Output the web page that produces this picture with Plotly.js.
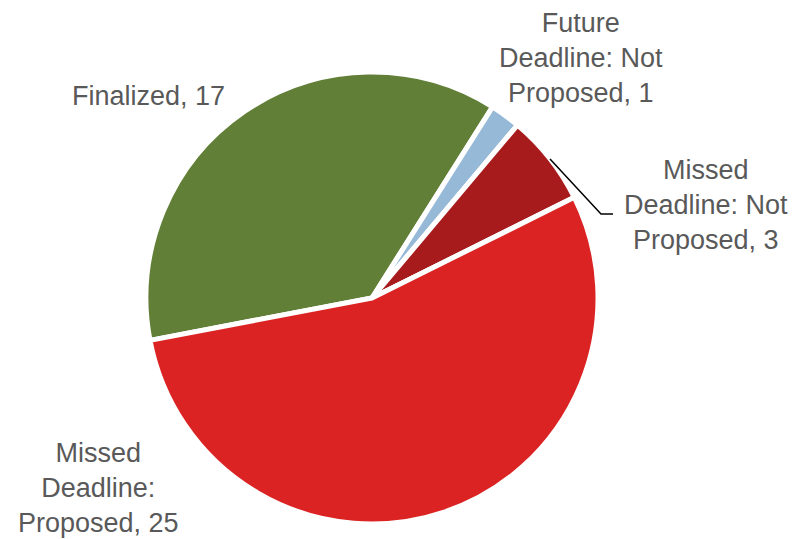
<!DOCTYPE html>
<html>
<head>
<meta charset="utf-8">
<script src="https://cdn.plot.ly/plotly-3.0.1.min.js"></script>
<style>html,body{margin:0;padding:0;background:#fff}#chart{width:800px;height:539px}</style>
</head>
<body>
<div id="chart"></div>
<script>
const categories = ["Finalized", "Future Deadline: Not Proposed", "Missed Deadline: Not Proposed", "Missed Deadline: Proposed"];
const values = [17, 1, 3, 25];
const labelText = ["Finalized, 17", "Future<br>Deadline: Not<br>Proposed, 1", "Missed<br>Deadline: Not<br>Proposed, 3", "Missed<br>Deadline:<br>Proposed, 25"];
const colors = ["#627F38", "#96B9D7", "#A81B1D", "#DB2323"];

const W = 800, H = 539;
const px = x => x / W, py = y => 1 - y / H;
const cx = 372, cy = 298, r = 226;

const trace = {
  type: "pie",
  labels: categories,
  values: values,
  sort: false,
  direction: "clockwise",
  rotation: -100.8,
  textinfo: "none",
  hoverinfo: "label+value",
  marker: { colors: colors, line: { color: "#ffffff", width: 5 } },
  domain: { x: [px(cx - r), px(cx + r)], y: [py(cy + r), py(cy - r)] },
  showlegend: false
};

const labelPos = [[148, 96], [581, 58], [706, 205], [98, 488]];
const annotations = labelText.map((t, i) => ({
  text: t, x: px(labelPos[i][0]), y: py(labelPos[i][1]), xref: "paper", yref: "paper",
  xanchor: "center", yanchor: "middle", showarrow: false, align: "center",
  font: { family: "Liberation Sans, Arial, sans-serif", size: 27, color: "#595959" }
}));

const layout = {
  width: W, height: H,
  margin: { l: 0, r: 0, t: 0, b: 0 },
  paper_bgcolor: "#ffffff",
  annotations: annotations,
  shapes: [{
    type: "path", xref: "paper", yref: "paper",
    path: `M ${px(550)} ${py(159)} L ${px(601)} ${py(214)} L ${px(613)} ${py(214)}`,
    line: { color: "#000000", width: 1.5 }
  }]
};

Plotly.newPlot("chart", [trace], layout, { displayModeBar: false, staticPlot: true });
</script>
</body>
</html>
